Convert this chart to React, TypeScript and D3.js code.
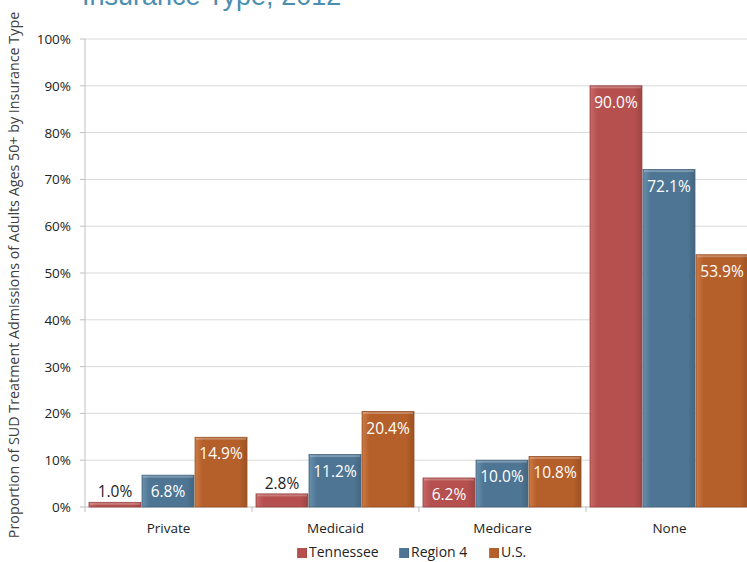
import React from "react";
import * as d3 from "d3";

const categories = ["Private", "Medicaid", "Medicare", "None"];
const seriesNames = ["Tennessee", "Region 4", "U.S."];
const tennessee = [1.0, 2.8, 6.2, 90.0];
const region4 = [6.8, 11.2, 10.0, 72.1];
const us = [14.9, 20.4, 10.8, 53.9];
const yTicks = [0, 10, 20, 30, 40, 50, 60, 70, 80, 90, 100];
const colors = ["#b5504f", "#4e7694", "#b55f2a"];
const lightColors = ["#c86866", "#6890ad", "#cc7a44"];

export default function App() {
  const W = 747, H = 562;
  const left = 85, top = 39, bottom = 507;
  const catW = 167;
  const x = d3.scaleBand<string>().domain(categories).range([left, left + catW * 4]).paddingInner(0).paddingOuter(0);
  const y = d3.scaleLinear().domain([0, 100]).range([bottom, top]);
  const inner = d3.scaleBand<string>().domain(seriesNames).range([4, catW - 5]).paddingInner(0.02);
  const series = [tennessee, region4, us];
  const font = "'Open Sans', Lato, sans-serif";
  return (
    <svg width={W} height={H} style={{ position: "absolute", left: 0, top: 0 }} fontFamily={font}>
      <defs>
        {colors.map((c, i) => (
          <linearGradient key={i} id={`g${i}`} x1="0" x2="1" y1="0" y2="0">
            <stop offset="0" stopColor={lightColors[i]} />
            <stop offset="0.15" stopColor={c} />
            <stop offset="0.85" stopColor={c} />
            <stop offset="1" stopColor={d3.color(c)!.darker(0.4).toString()} />
          </linearGradient>
        ))}
      </defs>
      <text x={82} y={5} fontFamily="'Liberation Sans', Arial, sans-serif" fontSize={27} fill="#4a8fb0">Insurance Type, 2012</text>
      <text transform={`translate(19,275) rotate(-90)`} textAnchor="middle" fontSize={14.3} fill="#404040">
        Proportion of SUD Treatment Admissions of Adults Ages 50+ by Insurance Type
      </text>
      {yTicks.map((t) => (
        <g key={t}>
          {t > 0 && <line x1={left} x2={W} y1={y(t)} y2={y(t)} stroke="#d9d9d9" strokeWidth={1} />}
          <line x1={left - 5} x2={left} y1={y(t)} y2={y(t)} stroke="#bfbfbf" />
          <text x={71} y={y(t) + 5} textAnchor="end" fontSize={13.5} fill="#222">{t}%</text>
        </g>
      ))}
      <line x1={left} x2={left} y1={top} y2={bottom} stroke="#bfbfbf" />
      <line x1={left} x2={W} y1={bottom} y2={bottom} stroke="#bfbfbf" />
      {categories.map((c, ci) => (
        <g key={c}>
          <line x1={x(c)!} x2={x(c)!} y1={bottom} y2={bottom + 5} stroke="#bfbfbf" />
          <text x={x(c)! + catW / 2} y={533} textAnchor="middle" fontSize={13.5} fill="#222">{c}</text>
          {series.map((s, si) => {
            const bx = x(c)! + inner(seriesNames[si])!;
            const bw = inner.bandwidth();
            const by = y(s[ci]);
            const bh = bottom - by;
            const inside = bh > 22;
            return (
              <g key={si}>
                <rect x={bx} y={by} width={bw} height={bh} fill={`url(#g${si})`} stroke={d3.color(colors[si])!.darker(0.5).toString()} strokeWidth={0.8} />
                <rect x={bx + 1} y={by + 0.5} width={bw - 2} height={Math.min(2, bh)} fill="#ffffff" opacity={0.25} />
                <text x={bx + bw / 2} y={inside ? by + 22 : by - 5} textAnchor="middle" fontSize={15.5} fill={inside ? "#ffffff" : "#222"}>
                  {s[ci].toFixed(1)}%
                </text>
              </g>
            );
          })}
        </g>
      ))}
      {seriesNames.map((n, i) => {
        const lx = [297, 399, 489][i];
        return (
          <g key={n}>
            <rect x={lx} y={548} width={10} height={10} fill={`url(#g${i})`} />
            <text x={lx + 12} y={557} fontSize={14} fill="#222">{n}</text>
          </g>
        );
      })}
    </svg>
  );
}
